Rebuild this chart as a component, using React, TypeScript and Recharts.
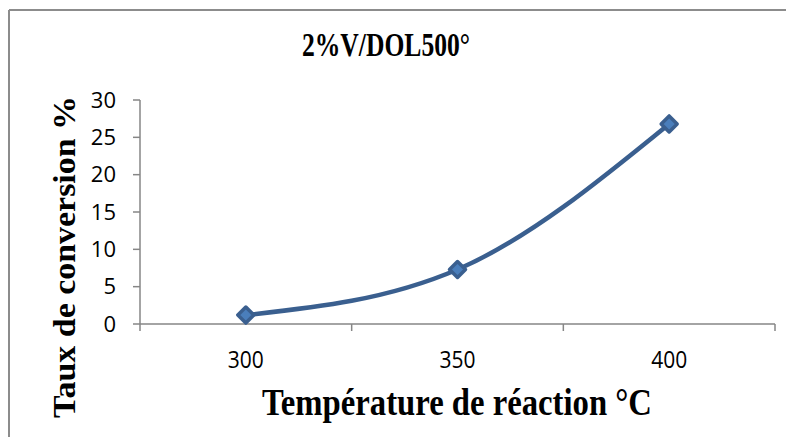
import { LineChart, Line, XAxis, YAxis } from 'recharts';

// Conversion rate vs reaction temperature for 2%V/DOL500°
const temperatures = [300, 350, 400];
const conversion = [1.2, 7.3, 26.8];
const yTicks = [0, 5, 10, 15, 20, 25, 30];
// category boundaries where the x axis draws its tick marks
const xBoundaries = [275, 325, 375, 425];

const chartTitle = '2%V/DOL500°';
const xTitle = 'Température  de réaction °C';
const yTitle = 'Taux de conversion %';

const data = temperatures.map((t, i) => ({ t, value: conversion[i] }));

const W = 786;
const H = 429;
const AXIS = '#868686';
const LINE = '#3A5F8F';
const MARKER = '#4A7EBB';
const SERIF = "'Liberation Serif', 'Times New Roman', serif";

function XTick(props: any) {
  const { x, y, payload } = props;
  if (xBoundaries.includes(payload.value)) {
    return <line x1={x} x2={x} y1={y} y2={y + 7} stroke={AXIS} strokeWidth={1.5} />;
  }
  return (
    <text
      x={x}
      y={y + 44}
      textAnchor="middle"
      fontFamily="'Open Sans', sans-serif"
      fontSize={24}
      textLength={36}
      lengthAdjust="spacingAndGlyphs"
      fill="#000"
    >
      {payload.value}
    </text>
  );
}

function Diamond(props: any) {
  const { cx, cy } = props;
  if (cx == null || cy == null) return null;
  const r = 8;
  return (
    <polygon
      points={`${cx},${cy - r} ${cx + r},${cy} ${cx},${cy + r} ${cx - r},${cy}`}
      fill={MARKER}
      stroke={LINE}
      strokeWidth={3.5}
      strokeLinejoin="round"
    />
  );
}

export default function App() {
  return (
    <div style={{ position: 'relative', width: W, height: H, background: '#fff' }}>
      <LineChart
        width={W}
        height={H}
        data={data}
        margin={{ top: 92, right: 19, left: 72, bottom: 73 }}
      >
        <XAxis
          dataKey="t"
          type="number"
          domain={[275, 425]}
          ticks={[275, 300, 325, 350, 375, 400, 425]}
          interval={0}
          height={40}
          tickSize={0}
          tickMargin={0}
          tickLine={false}
          axisLine={{ stroke: AXIS, strokeWidth: 1.5 }}
          tick={<XTick />}
        />
        <YAxis
          domain={[0, 30]}
          ticks={yTicks}
          interval={0}
          width={60}
          tickSize={7}
          tickMargin={17}
          axisLine={{ stroke: AXIS, strokeWidth: 1.5 }}
          tickLine={{ stroke: AXIS, strokeWidth: 1.5 }}
          tick={{ fill: '#000', fontSize: 22, fontFamily: "'Open Sans', sans-serif" }}
        />
        <Line
          type="monotone"
          dataKey="value"
          stroke={LINE}
          strokeWidth={4.5}
          dot={<Diamond />}
          activeDot={false}
          isAnimationActive={false}
        />
      </LineChart>
      <svg
        width={W}
        height={H}
        style={{ position: 'absolute', left: 0, top: 0, pointerEvents: 'none' }}
      >
        <line x1={1} x2={W} y1={2} y2={2} stroke="#8c8c8c" strokeWidth={2} />
        <line x1={1} x2={1} y1={2} y2={H} stroke="#8c8c8c" strokeWidth={2} />
        <text
          x={378}
          y={48}
          textAnchor="middle"
          fontFamily={SERIF}
          fontWeight="bold"
          fontSize={33}
          textLength={168}
          lengthAdjust="spacingAndGlyphs"
          fill="#000"
        >
          {chartTitle}
        </text>
        <text
          x={449}
          y={407}
          textAnchor="middle"
          fontFamily={SERIF}
          fontWeight="bold"
          fontSize={38}
          textLength={390}
          lengthAdjust="spacingAndGlyphs"
          fill="#000"
        >
          {xTitle}
        </text>
        <text
          x={0}
          y={0}
          transform="translate(67, 249) rotate(-90)"
          textAnchor="middle"
          fontFamily={SERIF}
          fontWeight="bold"
          fontSize={32}
          textLength={322}
          lengthAdjust="spacingAndGlyphs"
          fill="#000"
        >
          {yTitle}
        </text>
      </svg>
    </div>
  );
}
